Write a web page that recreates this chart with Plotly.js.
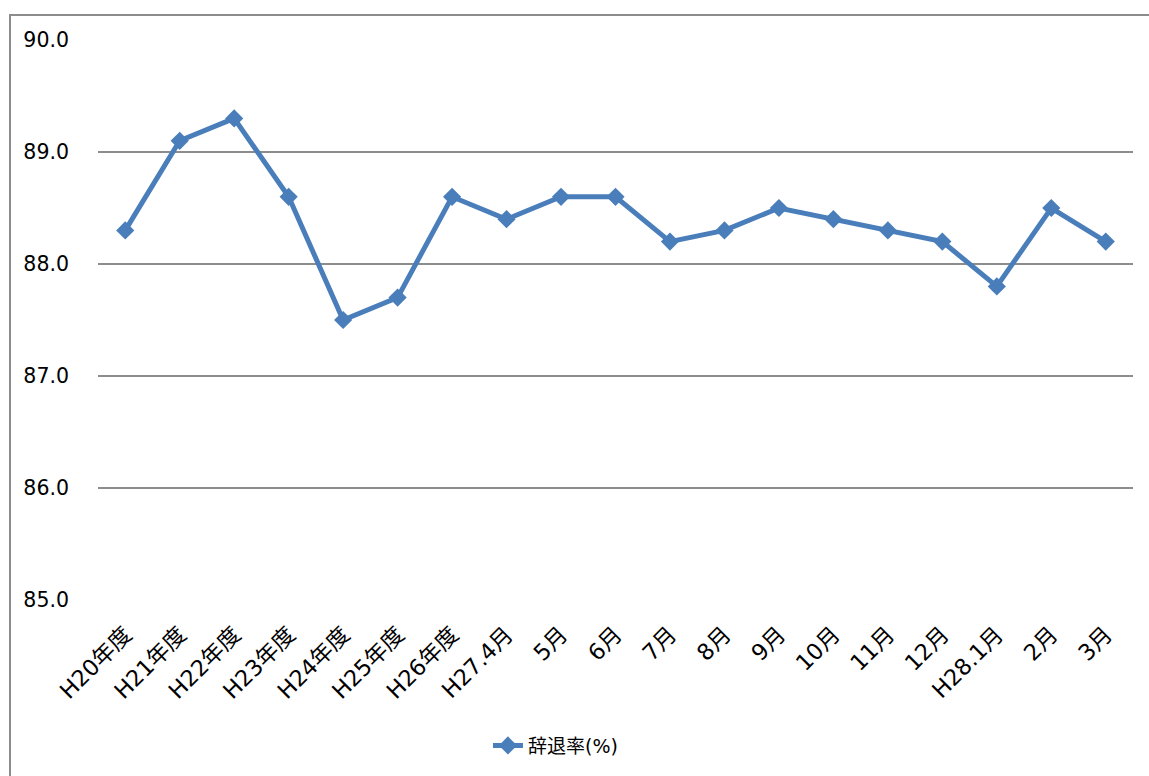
<!DOCTYPE html>
<html>
<head>
<meta charset="utf-8">
<script src="https://cdn.plot.ly/plotly-3.0.1.min.js"></script>
<style>
html,body{margin:0;padding:0;background:#fff;overflow:hidden;}
#wrap{position:relative;width:1149px;height:776px;}
#chart{position:absolute;left:0;top:0;width:1149px;height:776px;}
#frame{position:absolute;left:9px;top:14px;width:1200px;height:800px;border:2px solid #8c8c8c;pointer-events:none;}
</style>
</head>
<body>
<div id="wrap"><div id="chart"></div><div id="frame"></div></div>
<script>
const categories = ["H20年度","H21年度","H22年度","H23年度","H24年度","H25年度","H26年度","H27.4月","5月","6月","7月","8月","9月","10月","11月","12月","H28.1月","2月","3月"];
const seriesName = "辞退率(%)";
const values = [88.3,89.1,89.3,88.6,87.5,87.7,88.6,88.4,88.6,88.6,88.2,88.3,88.5,88.4,88.3,88.2,87.8,88.5,88.2];
const yTicks = [85,86,87,88,89,90];

const font = "'DejaVu Sans', 'Noto Sans CJK JP', sans-serif";

Plotly.newPlot('chart', [{
  x: categories,
  y: values,
  type: 'scatter',
  mode: 'lines+markers',
  name: seriesName,
  line: {color: '#4a7ebb', width: 5},
  marker: {symbol: 'diamond', size: 14, color: '#4a7ebb'},
  showlegend: true
}], {
  width: 1149, height: 776,
  margin: {l: 98, r: 16, t: 40, b: 176},
  paper_bgcolor: '#ffffff',
  plot_bgcolor: '#ffffff',
  font: {family: font, size: 18, color: '#000'},
  xaxis: {
    type: 'category',
    range: [-0.5, categories.length - 0.5],
    tickangle: -45,
    showgrid: false,
    showline: false,
    zeroline: false,
    ticks: '',
    ticklabelstandoff: 16,
    tickfont: {family: font, size: 22.5, color: '#000'}
  },
  yaxis: {
    range: [85, 90],
    tickvals: yTicks,
    tickformat: '.1f',
    showgrid: true,
    gridcolor: '#8c8c8c',
    gridwidth: 1.5,
    zeroline: false,
    showline: false,
    ticks: '',
    ticklabelstandoff: 28,
    tickfont: {family: font, size: 20.5, color: '#000'}
  },
  legend: {
    orientation: 'h',
    x: 0.442, xanchor: 'center',
    y: -0.26, yanchor: 'middle',
    font: {family: font, size: 19, color: '#000'}
  }
}, {displayModeBar: false});
</script>
</body>
</html>
